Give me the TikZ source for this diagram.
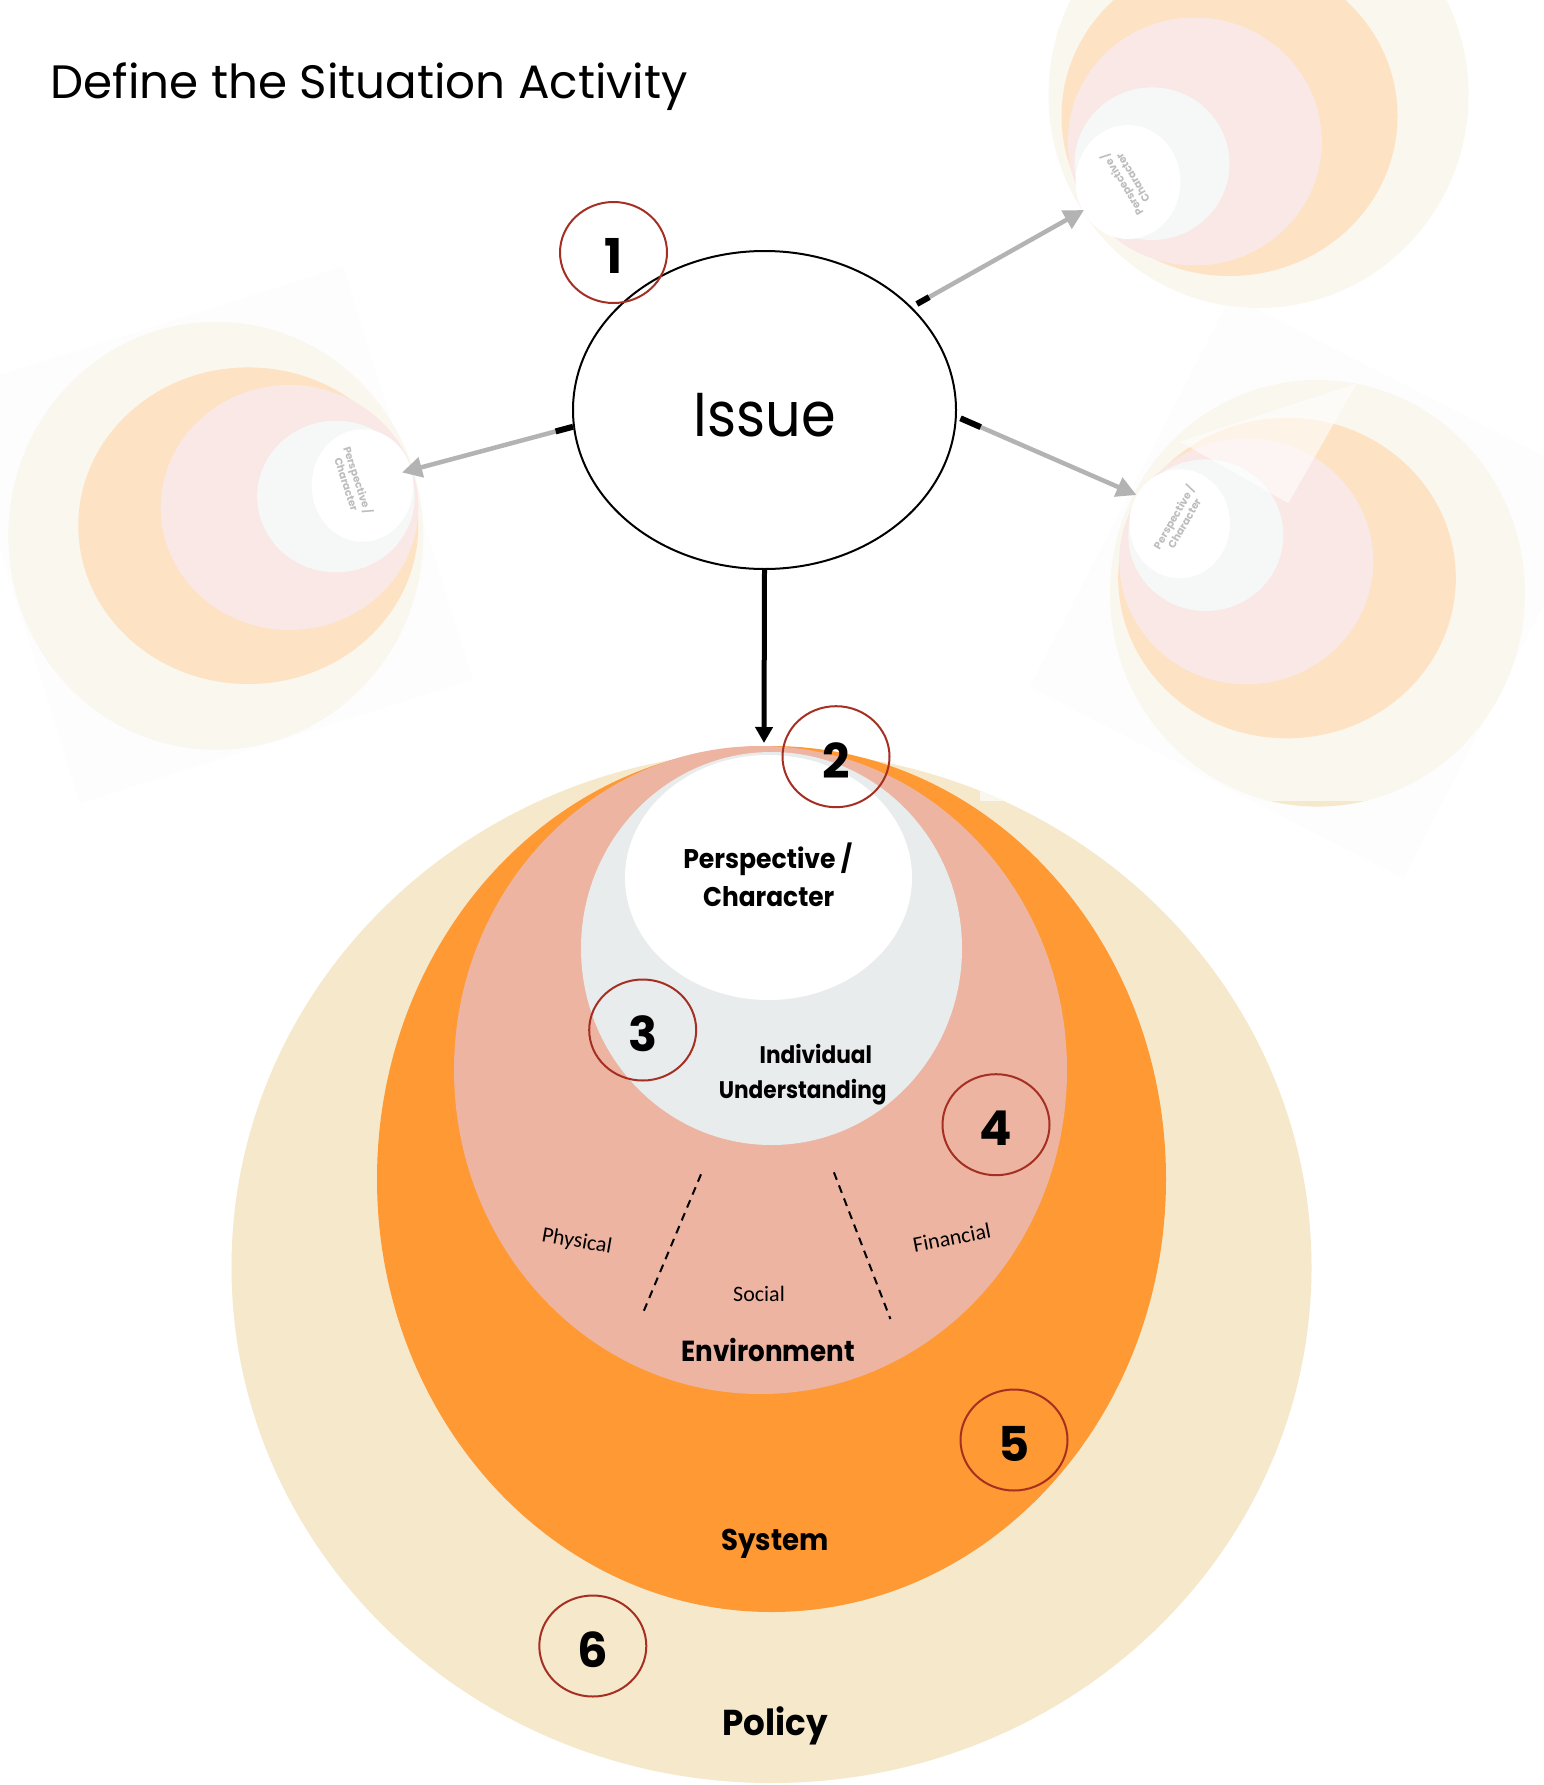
\documentclass[tikz,border=0pt]{standalone}
\usepackage{fontspec}
\setmainfont{Poppins}
\newfontfamily\calfont{Carlito}
\usetikzlibrary{arrows.meta,shapes.geometric,calc}

% layer colours
\definecolor{policyc}{HTML}{F5E8CB}
\definecolor{systemc}{HTML}{FE9934}
\definecolor{envc}{HTML}{EDB4A1}
\definecolor{indivc}{HTML}{E8ECED}
\definecolor{markc}{HTML}{A52F22}
\definecolor{linkgray}{HTML}{B3B3B3}
% washed-out copies
\definecolor{fbeige}{HTML}{FAF7EF}
\definecolor{forange}{HTML}{FDE2C4}
\definecolor{fpink}{HTML}{F9E8E5}
\definecolor{fgray}{HTML}{F6F8F8}
\definecolor{ftext}{HTML}{BDBDBD}
\definecolor{fbox}{HTML}{FDFDFD}

\tikzset{
  ring/.style={ellipse, draw=markc, line width=2pt, minimum width=107pt,
    minimum height=101pt, inner sep=0pt},
  digit/.style={font=\fontsize{48}{48}\selectfont\bfseries, inner sep=0pt},
  layerlabel/.style={font=\fontsize{27}{30}\selectfont\bfseries, inner sep=0pt,
    anchor=base, xscale=0.93},
  sublabel/.style={font=\calfont\fontsize{22}{24}\selectfont, inner sep=0pt},
  ghosttext/.style={font=\fontsize{10.5}{12}\selectfont\bfseries, text=ftext,
    align=center, inner sep=0pt},
  graylink/.style={draw=linkgray, line width=4.5pt,
    -{Triangle[length=20pt,width=20pt]}},
  stub/.style={draw=black, line width=6pt},
  divider/.style={draw=black, line width=2pt, dash pattern=on 8pt off 6pt}
}

\begin{document}
\begin{tikzpicture}[x=1pt,y=-1pt]
\fill[white] (0,0) rectangle (1544,1785);
\useasboundingbox (0,0) rectangle (1544,1785);

% ---- nested layers ----
\fill[policyc] (771.5,1267) ellipse [x radius=540, y radius=516];
\fill[systemc] (771.5,1179) ellipse [x radius=394.5, y radius=433];
\fill[envc]    (760.5,1070) ellipse [x radius=306.5, y radius=324];
\fill[indivc]  (771.5,948.5) ellipse [x radius=190.5, y radius=196.5];
\fill[white]   (768.5,877.5) ellipse [x radius=143.5, y radius=122.5];

% ---- washed-out copy, left ----
\fill[fbox] (-49.7,390.5) -- (343,267) -- (472.7,679.5) -- (80,803) -- cycle;
\fill[fbeige]  (215.8,535.8) ellipse [x radius=207.5, y radius=214];
\fill[forange] (248.3,525.7) ellipse [x radius=170, y radius=158.3];
\fill[fpink]   (289.5,507.5) ellipse [x radius=128.8, y radius=122.5];
\fill[fgray]   (336,496.5) ellipse [x radius=78.8, y radius=75.8];
\fill[white]   (362.5,485.5) ellipse [x radius=50.8, y radius=56.2];
\node[ghosttext, rotate=-72] (ghostL) at (353,482) {Perspective /\\Character};

% ---- washed-out copy, lower right ----
\fill[fbox] (1030,687) -- (1403.3,878.3) -- (1604,487) -- (1231,296) -- cycle;
% its veil stops at a straight lower edge
\begin{scope}
  \clip (980,700) rectangle (1100,800);
  \fill[fbeige] (771.5,1267) ellipse [x radius=540, y radius=516];
\end{scope}
\begin{scope}
  \clip (1000,800) rectangle (1544,820);
  \fill[policyc] (1317.5,593.3) ellipse [x radius=207.5, y radius=213.3];
\end{scope}
\begin{scope}
  \clip (980,0) rectangle (1544,800);
  \fill[fbeige]  (1317.5,593.3) ellipse [x radius=207.5, y radius=213.3];
\end{scope}
\fill[forange] (1287,578) ellipse [x radius=168.8, y radius=160.3];
\fill[fpink]   (1246.3,561.3) ellipse [x radius=127, y radius=123];
\fill[fgray]   (1205.8,535.2) ellipse [x radius=77.5, y radius=75.8];
\fill[white]   (1179.7,523.8) ellipse [x radius=50.3, y radius=54.5];
\fill[white, opacity=0.6] (1180,441.7) -- (1356.7,383.3) -- (1288.3,503.3) -- cycle;
\node[ghosttext, rotate=60] (ghostR) at (1178.3,520) {Perspective /\\Character};

% ---- washed-out copy, upper right ----
\fill[fbeige]  (1258.5,95) ellipse [x radius=210, y radius=213];
\fill[forange] (1229.5,116) ellipse [x radius=168, y radius=160];
\fill[fpink]   (1194.8,141.5) ellipse [x radius=127, y radius=124];
\fill[fgray]   (1152,163.7) ellipse [x radius=77.5, y radius=76.3];
\fill[white]   (1128,182) ellipse [x radius=52.4, y radius=57];
\node[ghosttext, rotate=121] (ghostT) at (1126.6,181.7) {Perspective /\\Character};

% ---- title ----
\node[anchor=base west, inner sep=0pt, font=\fontsize{46.8}{50}\selectfont] (title)
  at (50.5,99) {Define the Situation Activity};

% ---- issue ----
\node[ellipse, draw=black, line width=2pt, fill=white, minimum width=383pt,
  minimum height=318pt, inner sep=0pt] (issue) at (764.5,410) {};
\node[anchor=base, inner sep=0pt, xscale=0.9, font=\fontsize{62}{64}\selectfont] (issuetext)
  at (765,436) {Issue};

% ---- links ----
\coordinate (tgtL) at (402,472.5);
\coordinate (tgtT) at (1084,210);
\coordinate (tgtR) at (1136.5,495);
\coordinate (tgtD) at (764,743);
\draw[graylink] (issue.185) -- (tgtL);
\draw[graylink, shorten <=6pt] (issue.35) -- (tgtT);
\draw[graylink, shorten <=4pt] (issue.-2) -- (tgtR);
\draw[stub] (issue.185) -- ($(issue.185)!18pt!(tgtL)$);
\draw[stub] ($(issue.35)!6pt!(tgtT)$) -- ($(issue.35)!20pt!(tgtT)$);
\draw[stub] ($(issue.-2)!4pt!(tgtR)$) -- ($(issue.-2)!26pt!(tgtR)$);
\draw[black, line width=5pt, -{Triangle[length=16pt,width=17pt]}] (issue.south) -- (tgtD);

% ---- layer labels ----
\node[layerlabel] (persp1) at (767.8,868.3) {Perspective /};
\node[layerlabel, xscale=0.99] (persp2) at (768.7,906.7) {Character};
\node[layerlabel, font=\fontsize{24}{28}\selectfont\bfseries, xscale=0.97] (indiv1) at (815.8,1063.3) {Individual};
\node[layerlabel, font=\fontsize{24}{28}\selectfont\bfseries, xscale=0.97] (indiv2) at (802.7,1098.3) {Understanding};
\node[layerlabel, font=\fontsize{29}{33}\selectfont\bfseries, xscale=0.97] (envlabel) at (768.3,1361.7) {Environment};
\node[layerlabel, font=\fontsize{30}{36}\selectfont\bfseries, xscale=0.99] (syslabel) at (775,1550.7) {System};
\node[layerlabel, font=\fontsize{36}{40}\selectfont\bfseries, xscale=1.02] (pollabel) at (775,1735) {Policy};

% ---- environment sectors ----
\coordinate (divLa) at (701,1174.3);
\coordinate (divLb) at (643.9,1310.7);
\coordinate (divRa) at (833.9,1172.3);
\coordinate (divRb) at (890.4,1319);
\draw[divider] (divLa) -- (divLb);
\draw[divider] (divRa) -- (divRb);
\node[sublabel, rotate=-10] (physical) at (576.8,1241.7) {Physical};
\node[sublabel, anchor=base] (social) at (759,1301.7) {Social};
\node[sublabel, rotate=11] (financial) at (951.8,1237.5) {Financial};

% ---- step markers ----
\node[ring] (m1) at (613.5,252.5) {};
\node[ring] (m2) at (836,756.7) {};
\node[ring] (m3) at (642.7,1030) {};
\node[ring] (m4) at (996,1124.7) {};
\node[ring] (m5) at (1014,1440) {};
\node[ring] (m6) at (592.8,1646) {};
\foreach \m/\d in {m1/1,m2/2,m3/3,m4/4,m5/5,m6/6}
  \node[digit] at ([yshift=-3.5pt]\m.center) {\d};
\end{tikzpicture}
\end{document}
